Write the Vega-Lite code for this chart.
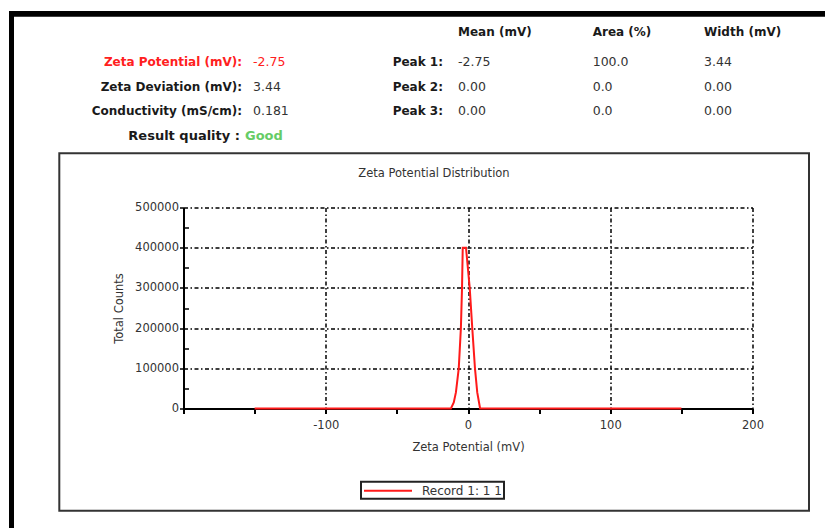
{
  "$schema": "https://vega.github.io/schema/vega-lite/v6.json",
  "width": 569,
  "height": 201,
  "autosize": {"type": "none"},
  "padding": {"left": 183.5, "top": 207.5, "right": 72.5, "bottom": 119.5},
  "background": "white",
  "datasets": {
    "distribution": [
      {"mv": -150, "counts": 0},
      {"mv": -12, "counts": 0},
      {"mv": -10, "counts": 15000},
      {"mv": -8.5, "counts": 40000},
      {"mv": -6.5, "counts": 100000},
      {"mv": -5, "counts": 200000},
      {"mv": -4.2, "counts": 300000},
      {"mv": -3.7, "counts": 400000},
      {"mv": -1.4, "counts": 400000},
      {"mv": 1.2, "counts": 300000},
      {"mv": 3, "counts": 200000},
      {"mv": 4.9, "counts": 100000},
      {"mv": 6.5, "counts": 40000},
      {"mv": 8.5, "counts": 0},
      {"mv": 150, "counts": 0}
    ],
    "summary": [
      {"row": 1, "label": "Zeta Potential (mV):", "value": "-2.75", "kind": "zeta"},
      {"row": 2, "label": "Zeta Deviation (mV):", "value": "3.44", "kind": "plain"},
      {"row": 3, "label": "Conductivity (mS/cm):", "value": "0.181", "kind": "plain"}
    ],
    "quality": [
      {"row": 4, "label": "Result quality :", "value": "Good"}
    ],
    "peaks": [
      {"row": 0, "peak": "", "mean": "Mean (mV)", "area": "Area (%)", "width": "Width (mV)"},
      {"row": 1, "peak": "Peak 1:", "mean": "-2.75", "area": "100.0", "width": "3.44"},
      {"row": 2, "peak": "Peak 2:", "mean": "0.00", "area": "0.0", "width": "0.00"},
      {"row": 3, "peak": "Peak 3:", "mean": "0.00", "area": "0.0", "width": "0.00"}
    ],
    "chartTitle": [
      {"title": "Zeta Potential Distribution"}
    ]
  },
  "config": {
    "view": {"stroke": null},
    "font": "DejaVu Sans",
    "legend": {
      "symbolType": "M-1,0H7",
      "symbolStrokeWidth": 2,
      "symbolSize": 144,
      "labelFont": "DejaVu Sans",
      "labelFontSize": 12,
      "labelColor": "#333",
      "labelOffset": 45,
      "strokeColor": "#222",
      "strokeWidth": 2,
      "padding": 2
    }
  },
  "resolve": {"scale": {"x": "independent", "y": "independent", "color": "independent"}},
  "layer": [
    {
      "data": {"values": [{}]},
      "mark": {"type": "rule", "stroke": "black", "strokeWidth": 5.7},
      "encoding": {
        "x": {"datum": -322.67, "type": "quantitative", "scale": {"domain": [-200, 200], "nice": false}, "axis": null},
        "x2": {"datum": 251.67},
        "y": {"datum": 981716, "type": "quantitative", "scale": {"domain": [0, 500000], "nice": false}, "axis": null}
      }
    },
    {
      "data": {"values": [{}]},
      "mark": {"type": "rule", "stroke": "black", "strokeWidth": 5},
      "encoding": {
        "x": {"datum": -320.91, "type": "quantitative", "scale": {"domain": [-200, 200], "nice": false}, "axis": null},
        "y": {"datum": 988805, "type": "quantitative", "scale": {"domain": [0, 500000], "nice": false}, "axis": null},
        "y2": {"datum": -302239}
      }
    },
    {
      "data": {"values": [{}]},
      "mark": {"type": "rect", "fillOpacity": 0, "stroke": "#333", "strokeWidth": 2},
      "encoding": {
        "x": {"datum": -287.31, "type": "quantitative", "scale": {"domain": [-200, 200], "nice": false}, "axis": null},
        "x2": {"datum": 239.72},
        "y": {"datum": 634825, "type": "quantitative", "scale": {"domain": [0, 500000], "nice": false}, "axis": null},
        "y2": {"datum": -254229}
      }
    },
    {
      "data": {"name": "chartTitle"},
      "mark": {"type": "text", "align": "center", "baseline": "middle", "font": "DejaVu Sans", "fontSize": 11.5, "color": "#333"},
      "encoding": {
        "x": {"datum": -23.9, "type": "quantitative", "scale": {"domain": [-200, 200], "nice": false}, "axis": null},
        "y": {"datum": 584000, "type": "quantitative", "scale": {"domain": [0, 500000], "nice": false}, "axis": null},
        "text": {"field": "title"}
      }
    },
    {
      "data": {"name": "distribution"},
      "mark": {"type": "line", "strokeWidth": 2, "interpolate": "linear"},
      "encoding": {
        "x": {
          "field": "mv", "type": "quantitative",
          "scale": {"domain": [-200, 200], "nice": false},
          "axis": {
            "values": [-200, -150, -100, -50, 0, 50, 100, 150, 200],
            "labelExpr": "datum.value % 100 === 0 && datum.value > -200 ? '' + datum.value : ''",
            "labelFlush": false,
            "labelOverlap": false,
            "grid": true,
            "gridColor": "black",
            "gridWidth": 1.5,
            "gridDash": [4, 2.5, 1.5, 2.5],
            "gridOpacity": {"condition": {"test": "datum.value % 100 === 0 && datum.value > -200", "value": 1}, "value": 0},
            "domainColor": "black",
            "domainWidth": 2,
            "tickColor": "black",
            "tickWidth": 2,
            "tickSize": 5,
            "labelFont": "DejaVu Sans",
            "labelFontSize": 11.5,
            "labelColor": "#333",
            "labelPadding": 6,
            "title": "Zeta Potential (mV)",
            "titleFont": "DejaVu Sans",
            "titleFontSize": 11.5,
            "titleFontWeight": "normal",
            "titleColor": "#333",
            "titlePadding": 10
          }
        },
        "y": {
          "field": "counts", "type": "quantitative",
          "scale": {"domain": [0, 500000], "nice": false},
          "axis": {
            "values": [0, 50000, 100000, 150000, 200000, 250000, 300000, 350000, 400000, 450000, 500000],
            "labelExpr": "datum.value % 100000 === 0 ? '' + datum.value : ''",
            "labelFlush": false,
            "labelOverlap": false,
            "grid": true,
            "gridColor": "black",
            "gridWidth": 1.5,
            "gridDash": [4, 2.5, 1.5, 2.5],
            "gridOpacity": {"condition": {"test": "datum.value % 100000 === 0 && datum.value > 0", "value": 1}, "value": 0},
            "domainColor": "black",
            "domainWidth": 2,
            "tickColor": "black",
            "tickWidth": 1.5,
            "tickSize": {"condition": {"test": "datum.value % 100000 === 0", "value": 4}, "value": -5},
            "labelFont": "DejaVu Sans",
            "labelFontSize": 11.5,
            "labelColor": "#333",
            "labelPadding": 1,
            "title": "Total Counts",
            "titleFont": "DejaVu Sans",
            "titleFontSize": 11.5,
            "titleFontWeight": "normal",
            "titleColor": "#333",
            "titlePadding": 10
          }
        },
        "color": {
          "datum": "Record 1: 1 1", "type": "nominal",
          "scale": {"range": ["#ff1a1a"]},
          "legend": {"title": null, "orient": "none", "legendX": 177.5, "legendY": 274.2}
        }
      }
    },
    {
      "data": {"name": "summary"},
      "mark": {"type": "text", "align": "right", "baseline": "middle", "font": "DejaVu Sans", "fontSize": 12, "fontWeight": "bold"},
      "encoding": {
        "x": {"datum": -158.88, "type": "quantitative", "scale": {"domain": [-200, 200], "nice": false}, "axis": null},
        "y": {"field": "row", "type": "quantitative", "scale": {"domain": [6.9, 15.051], "reverse": true, "nice": false, "zero": false}, "axis": null},
        "text": {"field": "label"},
        "color": {"field": "kind", "type": "nominal", "scale": {"domain": ["zeta", "plain"], "range": ["#ff2020", "#1a1a1a"]}, "legend": null}
      }
    },
    {
      "data": {"name": "summary"},
      "mark": {"type": "text", "align": "left", "baseline": "middle", "font": "DejaVu Sans", "fontSize": 12.5},
      "encoding": {
        "x": {"datum": -151.14, "type": "quantitative", "scale": {"domain": [-200, 200], "nice": false}, "axis": null},
        "y": {"field": "row", "type": "quantitative", "scale": {"domain": [6.9, 15.051], "reverse": true, "nice": false, "zero": false}, "axis": null},
        "text": {"field": "value"},
        "color": {"field": "kind", "type": "nominal", "scale": {"domain": ["zeta", "plain"], "range": ["#ff2020", "#333333"]}, "legend": null}
      }
    },
    {
      "data": {"name": "quality"},
      "mark": {"type": "text", "align": "right", "baseline": "middle", "font": "DejaVu Sans", "fontSize": 13, "fontWeight": "bold", "color": "#1a1a1a"},
      "encoding": {
        "x": {"datum": -160.28, "type": "quantitative", "scale": {"domain": [-200, 200], "nice": false}, "axis": null},
        "y": {"field": "row", "type": "quantitative", "scale": {"domain": [6.9, 15.051], "reverse": true, "nice": false, "zero": false}, "axis": null},
        "text": {"field": "label"}
      }
    },
    {
      "data": {"name": "quality"},
      "mark": {"type": "text", "align": "left", "baseline": "middle", "font": "DejaVu Sans", "fontSize": 13, "fontWeight": "bold", "color": "#66cc66"},
      "encoding": {
        "x": {"datum": -156.77, "type": "quantitative", "scale": {"domain": [-200, 200], "nice": false}, "axis": null},
        "y": {"field": "row", "type": "quantitative", "scale": {"domain": [6.9, 15.051], "reverse": true, "nice": false, "zero": false}, "axis": null},
        "text": {"field": "value"}
      }
    },
    {
      "data": {"name": "peaks"},
      "transform": [{"filter": "datum.row > 0"}],
      "mark": {"type": "text", "align": "right", "baseline": "middle", "font": "DejaVu Sans", "fontSize": 12, "fontWeight": "bold", "color": "#1a1a1a"},
      "encoding": {
        "x": {"datum": -17.57, "type": "quantitative", "scale": {"domain": [-200, 200], "nice": false}, "axis": null},
        "y": {"field": "row", "type": "quantitative", "scale": {"domain": [6.9, 15.051], "reverse": true, "nice": false, "zero": false}, "axis": null},
        "text": {"field": "peak"}
      }
    },
    {
      "data": {"name": "peaks"},
      "transform": [{"filter": "datum.row > 0"}],
      "mark": {"type": "text", "align": "left", "baseline": "middle", "font": "DejaVu Sans", "fontSize": 12.5, "color": "#333"},
      "encoding": {
        "x": {"datum": -7.03, "type": "quantitative", "scale": {"domain": [-200, 200], "nice": false}, "axis": null},
        "y": {"field": "row", "type": "quantitative", "scale": {"domain": [6.9, 15.051], "reverse": true, "nice": false, "zero": false}, "axis": null},
        "text": {"field": "mean"}
      }
    },
    {
      "data": {"name": "peaks"},
      "transform": [{"filter": "datum.row > 0"}],
      "mark": {"type": "text", "align": "left", "baseline": "middle", "font": "DejaVu Sans", "fontSize": 12.5, "color": "#333"},
      "encoding": {
        "x": {"datum": 87.66, "type": "quantitative", "scale": {"domain": [-200, 200], "nice": false}, "axis": null},
        "y": {"field": "row", "type": "quantitative", "scale": {"domain": [6.9, 15.051], "reverse": true, "nice": false, "zero": false}, "axis": null},
        "text": {"field": "area"}
      }
    },
    {
      "data": {"name": "peaks"},
      "transform": [{"filter": "datum.row > 0"}],
      "mark": {"type": "text", "align": "left", "baseline": "middle", "font": "DejaVu Sans", "fontSize": 12.5, "color": "#333"},
      "encoding": {
        "x": {"datum": 165.91, "type": "quantitative", "scale": {"domain": [-200, 200], "nice": false}, "axis": null},
        "y": {"field": "row", "type": "quantitative", "scale": {"domain": [6.9, 15.051], "reverse": true, "nice": false, "zero": false}, "axis": null},
        "text": {"field": "width"}
      }
    },
    {
      "data": {"name": "peaks"},
      "transform": [{"filter": "datum.row === 0"}],
      "mark": {"type": "text", "align": "left", "baseline": "middle", "dy": -5.65, "font": "DejaVu Sans", "fontSize": 12, "fontWeight": "bold", "color": "#1a1a1a"},
      "encoding": {
        "x": {"datum": -7.03, "type": "quantitative", "scale": {"domain": [-200, 200], "nice": false}, "axis": null},
        "y": {"field": "row", "type": "quantitative", "scale": {"domain": [6.9, 15.051], "reverse": true, "nice": false, "zero": false}, "axis": null},
        "text": {"field": "mean"}
      }
    },
    {
      "data": {"name": "peaks"},
      "transform": [{"filter": "datum.row === 0"}],
      "mark": {"type": "text", "align": "left", "baseline": "middle", "dy": -5.65, "font": "DejaVu Sans", "fontSize": 12, "fontWeight": "bold", "color": "#1a1a1a"},
      "encoding": {
        "x": {"datum": 87.66, "type": "quantitative", "scale": {"domain": [-200, 200], "nice": false}, "axis": null},
        "y": {"field": "row", "type": "quantitative", "scale": {"domain": [6.9, 15.051], "reverse": true, "nice": false, "zero": false}, "axis": null},
        "text": {"field": "area"}
      }
    },
    {
      "data": {"name": "peaks"},
      "transform": [{"filter": "datum.row === 0"}],
      "mark": {"type": "text", "align": "left", "baseline": "middle", "dy": -5.65, "font": "DejaVu Sans", "fontSize": 12, "fontWeight": "bold", "color": "#1a1a1a"},
      "encoding": {
        "x": {"datum": 165.91, "type": "quantitative", "scale": {"domain": [-200, 200], "nice": false}, "axis": null},
        "y": {"field": "row", "type": "quantitative", "scale": {"domain": [6.9, 15.051], "reverse": true, "nice": false, "zero": false}, "axis": null},
        "text": {"field": "width"}
      }
    }
  ]
}
